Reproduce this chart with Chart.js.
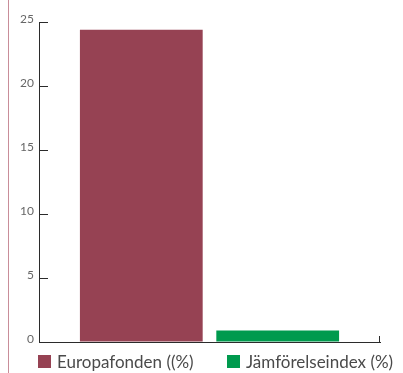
<!DOCTYPE html>
<html>
<head>
<meta charset="utf-8">
<script src="https://cdn.jsdelivr.net/npm/chart.js@4.4.1/dist/chart.umd.min.js"></script>
<style>
  html, body { margin: 0; padding: 0; background: #fff; }
  #wrap { position: relative; width: 403px; height: 373px; overflow: hidden; }
  #wrap canvas { position: absolute; left: 0; top: 0; }
  .edge { position: absolute; left: 8px; top: 0; width: 1px; height: 373px; background: #c98d99; }
  #legend { position: absolute; left: 38px; top: 351px; display: flex; font-family: Lato, sans-serif; font-size: 17px; color: #4a4a4a; }
  #legend .item { display: flex; align-items: center; white-space: nowrap; }
  #legend .box { width: 13px; height: 13px; margin-right: 6px; flex: none; }
</style>
</head>
<body>
<div id="wrap">
  <div class="edge"></div>
  <canvas id="chart" width="403" height="373"></canvas>
  <div id="legend"></div>
</div>
<script>
// ─── data ─────────────────────────────────────────────────────────────────────
const CATEGORIES   = [''];
const SERIES_NAMES = ['Europafonden ((%)', 'Jämförelseindex (%)'];
const FUND_VALUES  = [24.4];
const INDEX_VALUES = [0.9];
const Y_TICKS      = [0, 5, 10, 15, 20, 25];

const COLORS = ['#964253', '#009a4e'];
const AXIS_COLOR = '#2b2b2b';

// ticks drawn on the inside of the axes, like the original
const innerTicks = {
  id: 'innerTicks',
  afterDraw(chart) {
    const { ctx, chartArea } = chart;
    const y = chart.scales.y;
    ctx.save();
    ctx.strokeStyle = AXIS_COLOR;
    ctx.lineWidth = 1;
    ctx.beginPath();
    y.ticks.forEach(t => {
      if (t.value === 0) return;
      const py = Math.round(y.getPixelForValue(t.value)) + 0.5;
      ctx.moveTo(chartArea.left, py);
      ctx.lineTo(chartArea.left + 9, py);
    });
    const rx = Math.round(chartArea.right) - 0.5;
    ctx.moveTo(rx, chartArea.bottom);
    ctx.lineTo(rx, chartArea.bottom - 6);
    ctx.stroke();
    ctx.restore();
  }
};

const chart = new Chart(document.getElementById('chart'), {
  type: 'bar',
  data: {
    labels: CATEGORIES,
    datasets: [
      { label: SERIES_NAMES[0], data: FUND_VALUES,  backgroundColor: COLORS[0] },
      { label: SERIES_NAMES[1], data: INDEX_VALUES, backgroundColor: COLORS[1] },
    ]
  },
  options: {
    responsive: false,
    animation: false,
    layout: { padding: { left: 0, top: 22, right: 23, bottom: 31 } },
    plugins: { legend: { display: false }, tooltip: { enabled: false } },
    scales: {
      x: {
        ticks: { display: false },
        grid: { drawOnChartArea: false, drawTicks: false },
        border: { color: AXIS_COLOR, width: 1 },
      },
      y: {
        min: 0, max: 25,
        afterBuildTicks: s => { s.ticks = Y_TICKS.map(v => ({ value: v })); },
        afterFit: s => { s.width = 39; },
        ticks: {
          padding: 5, labelOffset: -3,
          color: '#666',
          font: { family: 'Lato', size: 12 },
        },
        grid: { drawOnChartArea: false, drawTicks: false },
        border: { color: AXIS_COLOR, width: 1 },
      }
    }
  },
  plugins: [innerTicks]
});

// legend as real text under the chart
document.getElementById('legend').innerHTML = chart.data.datasets.map((d, i) => `
  <div class="item" style="${i === 0 ? 'width:189px' : ''}">
    <span class="box" style="background:${d.backgroundColor}"></span>${d.label}
  </div>`).join('');
</script>
</body>
</html>
